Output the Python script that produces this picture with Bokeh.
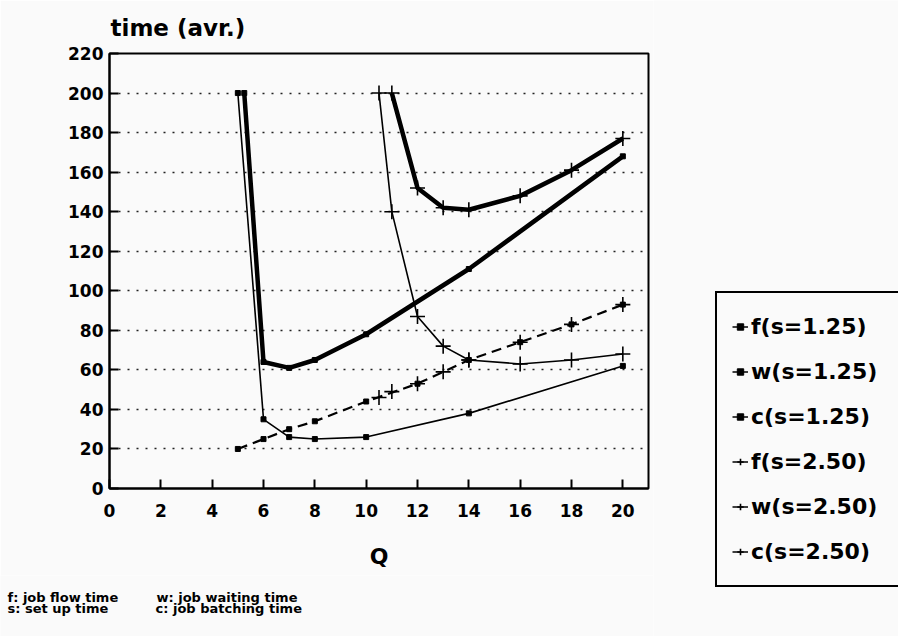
from bokeh.plotting import figure
from bokeh.layouts import row, column
from bokeh.models import Range1d, FixedTicker, Legend, LegendItem
from bokeh.core.properties import value
from bokeh.embed import file_html
from bokeh.resources import INLINE

# ---- data ----
f1_x = [5.25, 6, 7, 8, 10, 14, 20]
f1_y = [200, 64, 61, 65, 78, 111, 168]
w1_x = [5, 6, 7, 8, 10, 14, 20]
w1_y = [200, 35, 26, 25, 26, 38, 62]
c1_x = [5, 6, 7, 8, 10, 12, 14, 16, 18, 20]
c1_y = [20, 25, 30, 34, 44, 53, 65, 74, 83, 93]

f2_x = [11, 12, 13, 14, 16, 18, 20]
f2_y = [200, 152, 142, 141, 148, 161, 177]
w2_x = [10.5, 11, 12, 13, 14, 16, 18, 20]
w2_y = [200, 140, 87, 72, 65, 63, 65, 68]
c2_x = [10.5, 11, 12, 13, 14, 16, 18, 20]
c2_y = [46, 49, 53, 59, 65, 74, 83, 93]

x_ticks = [0, 2, 4, 6, 8, 10, 12, 14, 16, 18, 20]
y_ticks = [0, 20, 40, 60, 80, 100, 120, 140, 160, 180, 200, 220]

labels = ["f(s=1.25)", "w(s=1.25)", "c(s=1.25)", "f(s=2.50)", "w(s=2.50)", "c(s=2.50)"]
notes = ["f: job flow time", "w: job waiting time", "s: set up time", "c: job batching time"]

FONT = "DejaVu Sans"
BG = "#fafafa"

# ---------------- main chart ----------------
p = figure(width=653, height=575, output_backend="svg", toolbar_location=None,
           x_range=Range1d(0, 21), y_range=Range1d(0, 220),
           frame_width=539, frame_height=435,
           min_border_left=109, min_border_top=53, min_border_right=5, min_border_bottom=87,
           title="time (avr.)")
p.frame_align = False
p.background_fill_color = BG
p.border_fill_color = BG
p.outline_line_color = "black"
p.outline_line_width = 2

p.title.align = "left"
p.title.offset = 1
p.title.standoff = 25
p.title.text_font = FONT
p.title.text_font_style = "bold"
p.title.text_font_size = "23px"
p.title.text_color = "black"

p.xgrid.visible = False
p.ygrid.ticker = FixedTicker(ticks=y_ticks[1:-1])
p.ygrid.grid_line_color = "#222222"
p.ygrid.grid_line_dash = "2 7"
p.ygrid.grid_line_width = 1.5

for ax, ticks in ((p.xaxis[0], x_ticks), (p.yaxis[0], y_ticks)):
    ax.ticker = FixedTicker(ticks=ticks)
    ax.axis_line_color = "black"
    ax.axis_line_width = 2
    ax.major_tick_in = 9
    ax.major_tick_out = 0
    ax.major_tick_line_width = 2
    ax.minor_tick_line_color = None
    ax.major_label_text_font = FONT
    ax.major_label_text_font_style = "bold"
    ax.major_label_text_font_size = "17px"
    ax.major_label_text_color = "black"

p.yaxis.major_label_standoff = 6
p.xaxis.major_label_standoff = 15
p.xaxis.axis_label = "Q"
p.xaxis.axis_label_text_font = FONT
p.xaxis.axis_label_text_font_style = "bold"
p.xaxis.axis_label_text_font_size = "22px"
p.xaxis.axis_label_text_color = "black"
p.xaxis.axis_label_standoff = 24

# s = 1.25 : small square dots
p.line(f1_x, f1_y, line_color="black", line_width=4.5)
p.scatter(f1_x, f1_y, marker="square", size=5, color="black")
p.line(w1_x, w1_y, line_color="black", line_width=1.6)
p.scatter(w1_x, w1_y, marker="square", size=5, color="black")
p.line(c1_x, c1_y, line_color="black", line_width=2.2, line_dash="10 6")
p.scatter(c1_x, c1_y, marker="square", size=5, color="black")

# s = 2.50 : crosses (c coincides with the dashed c line of s=1.25)
p.line(f2_x, f2_y, line_color="black", line_width=4.5)
p.scatter(f2_x, f2_y, marker="cross", size=15, line_color="black", line_width=1.6)
p.line(w2_x, w2_y, line_color="black", line_width=1.6)
p.scatter(w2_x, w2_y, marker="cross", size=15, line_color="black", line_width=1.6)
p.scatter(c2_x, c2_y, marker="cross", size=15, line_color="black", line_width=1.6)

# ---------------- footnotes ----------------
n = figure(width=653, height=61, output_backend="svg", toolbar_location=None,
           x_range=Range1d(0, 653), y_range=Range1d(61, 0),
           min_border=0, x_axis_type=None, y_axis_type=None)
n.frame_align = False
n.background_fill_color = BG
n.border_fill_color = BG
n.outline_line_color = None
n.xgrid.visible = False
n.ygrid.visible = False
n.text(x=[7, 156, 7, 155], y=[22, 22, 33, 33], text=notes,
       text_font=value(FONT), text_font_style="bold", text_font_size="13px",
       text_color="black", text_baseline="alphabetic", text_align="left")

# ---------------- legend panel ----------------
lg = figure(width=245, height=636, output_backend="svg", toolbar_location=None,
            x_range=Range1d(0, 1), y_range=Range1d(0, 1),
            min_border=0, x_axis_type=None, y_axis_type=None)
lg.frame_align = False
lg.background_fill_color = BG
lg.border_fill_color = BG
lg.outline_line_color = None
lg.xgrid.visible = False
lg.ygrid.visible = False

items = []
for i in range(6):
    lr = lg.line([-1, -1], [-1, -1], line_color="black", line_width=1.5)
    if i < 3:
        sr = lg.scatter([-1], [-1], marker="square", size=4, color="black")
    else:
        sr = lg.scatter([-1], [-1], marker="cross", size=15, line_color="black", line_width=1.6)
    items.append(LegendItem(label=labels[i], renderers=[lr, sr]))

legend = Legend(items=items, location=(62, 49))
legend.border_line_color = "black"
legend.border_line_alpha = 1
legend.border_line_width = 2
legend.background_fill_color = BG
legend.background_fill_alpha = 1
legend.label_text_font = FONT
legend.label_text_font_style = "bold"
legend.label_text_font_size = "22px"
legend.label_text_color = "black"
legend.glyph_width = 16
legend.glyph_height = 37
legend.label_height = 37
legend.label_width = 132
legend.label_standoff = 3
legend.spacing = 8
legend.padding = 15
legend.margin = 0
lg.add_layout(legend, "center")

layout = row(column(p, n, spacing=0), lg, spacing=0)
open("out.html", "w").write(file_html(layout, INLINE))
